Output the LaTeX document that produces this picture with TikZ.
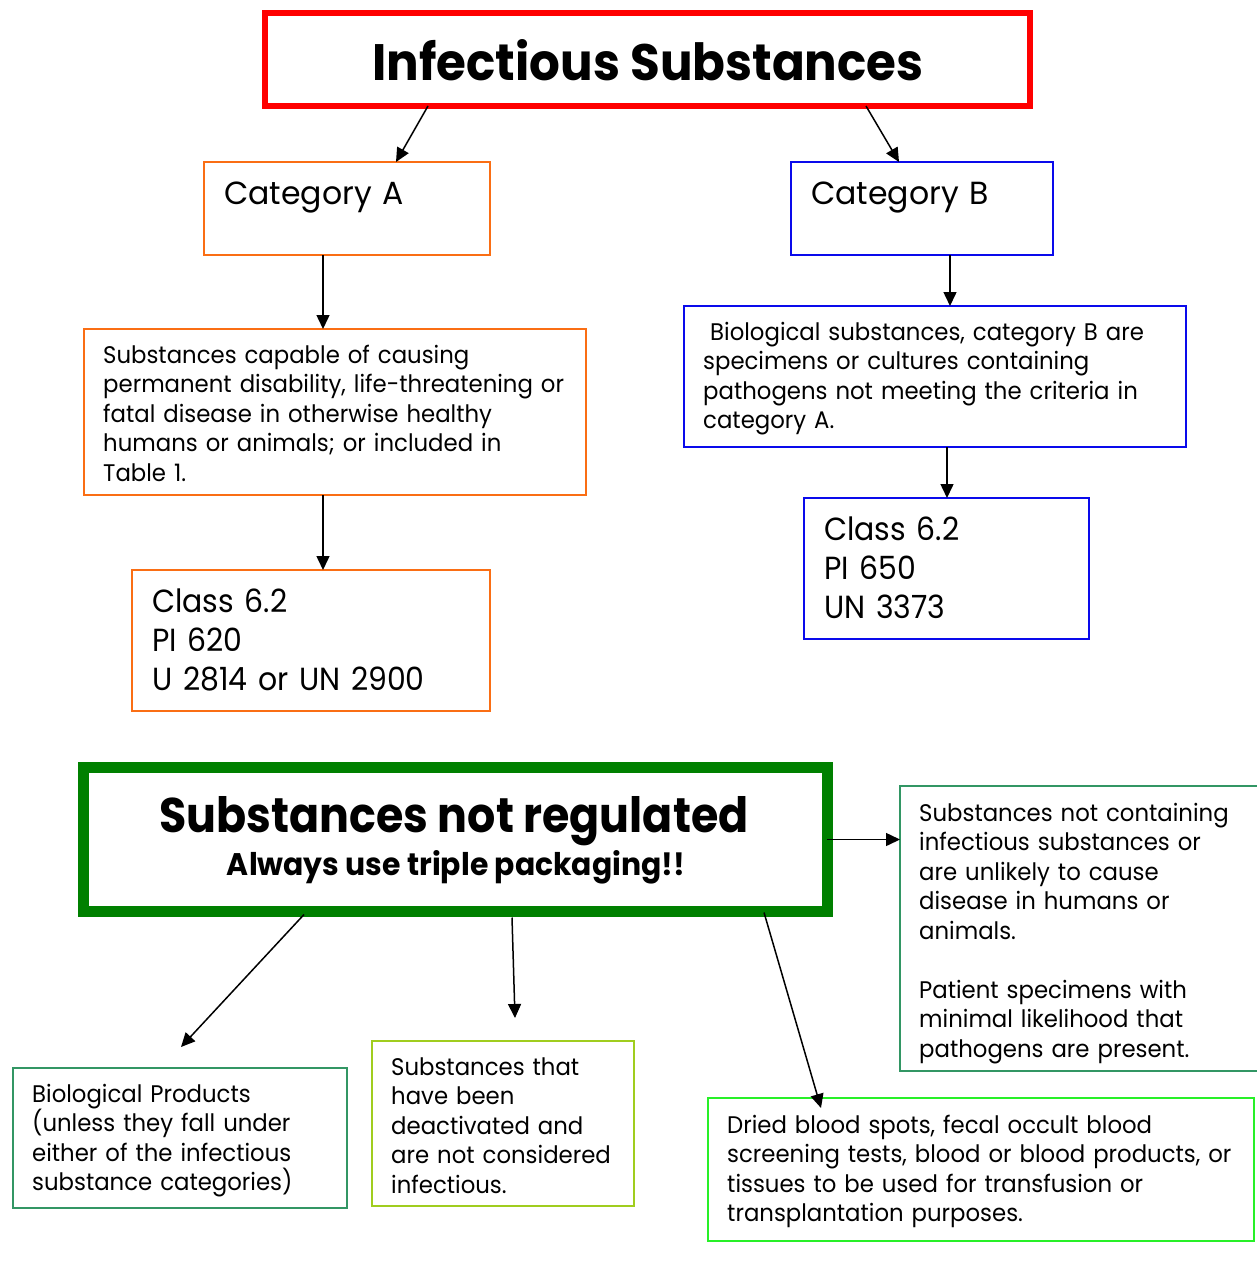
\documentclass[tikz,border=0pt]{standalone}
\usepackage{graphicx}
\usepackage{fontspec}
\setmainfont{Poppins}
\newfontfamily\smallfont{Poppins}[FakeStretch=0.95]
\newfontfamily\catfont{Poppins}[FakeStretch=0.985]
\newfontfamily\classfont{Poppins}[FakeStretch=0.935]
\usetikzlibrary{arrows.meta}
\definecolor{cRed}{RGB}{255,0,0}
\definecolor{cOrange}{RGB}{250,110,20}
\definecolor{cBlue}{RGB}{10,10,235}
\definecolor{cDkGreen}{RGB}{0,128,0}
\definecolor{cTeal}{RGB}{50,150,100}
\definecolor{cLime}{RGB}{160,205,30}
\definecolor{cBright}{RGB}{40,240,40}
\newcommand\firstl{\rule{0pt}{1em}}
\tikzset{
  box/.style={draw, line width=2pt, inner sep=0pt, outer sep=0pt, fill=white},
  cat/.style={anchor=north west, inner sep=0pt, align=left, text width=420pt,
    font=\catfont\fontsize{32}{39}\selectfont},
  big/.style={anchor=north west, inner sep=0pt, align=left, text width=420pt,
    font=\classfont\fontsize{32}{39}\selectfont},
  small/.style={anchor=north west, inner sep=0pt, align=left, text width=540pt,
    font=\smallfont\fontsize{24}{29.5}\selectfont},
  arr/.style={draw=black, line width=1.5pt, -{Triangle[length=14pt,width=13pt]}},
}
\begin{document}
\begin{tikzpicture}[x=1pt,y=-1pt]
\useasboundingbox (0,0) rectangle (1257,1266);
% boxes
\node[box, draw=cRed, line width=6pt, minimum width=765pt, minimum height=93pt] (title) at (647.5,59.5) {};
\node[box, draw=cOrange, minimum width=286pt, minimum height=93pt] (catA) at (347,208.5) {};
\node[box, draw=cBlue, minimum width=262pt, minimum height=93pt] (catB) at (922,208.5) {};
\node[box, draw=cOrange, minimum width=502pt, minimum height=166pt] (a2) at (335,412) {};
\node[box, draw=cOrange, minimum width=358pt, minimum height=141pt] (a3) at (311,640.5) {};
\node[box, draw=cBlue, minimum width=502pt, minimum height=141pt] (b2) at (935,376.5) {};
\node[box, draw=cBlue, minimum width=285pt, minimum height=141pt] (b3) at (946.5,568.5) {};
\node[box, draw=cDkGreen, line width=11pt, minimum width=744pt, minimum height=144pt] (nr) at (455,839.5) {};
\node[box, draw=cTeal, minimum width=360pt, minimum height=285pt] (right) at (1080,928.5) {};
\node[box, draw=cTeal, minimum width=334pt, minimum height=140pt] (bio) at (180,1138) {};
\node[box, draw=cLime, minimum width=262pt, minimum height=165pt] (deact) at (503,1123.5) {};
\node[box, draw=cBright, minimum width=546pt, minimum height=143pt] (dried) at (981,1169.5) {};
% texts
\node[anchor=base, inner sep=0pt] (titletext) at (648,80)
  {\resizebox{551pt}{41pt}{\bfseries Infectious Substances}};
\node[cat] (catAtext) at (224,172) {\firstl Category A};
\node[cat] (catBtext) at (811,172) {\firstl Category B};
\node[small] (a2text) at (103,339) {\firstl Substances capable of causing\\
  permanent disability, life-threatening or\\
  fatal disease in otherwise healthy\\
  humans or animals; or included in\\
  Table 1.};
\node[big] (a3text) at (152,580) {\firstl Class 6.2\\ PI 620\\ U 2814 or UN 2900};
\node[small] (b2text) at (703,316) {\firstl\hspace{7pt}Biological substances, category B are\\
  specimens or cultures containing\\
  pathogens not meeting the criteria in\\
  category A.};
\node[big] (b3text) at (824,508) {\firstl Class 6.2\\ PI 650\\ UN 3373};
\node[anchor=base, inner sep=0pt] (nrtext) at (454,832)
  {\resizebox{589pt}{36pt}{\bfseries Substances not regulated}};
\node[anchor=base, inner sep=0pt] (nrsub) at (456,875)
  {\resizebox{458pt}{25pt}{\bfseries Always use triple packaging!!}};
\node[small] (righttext) at (919,797) {\firstl Substances not containing\\
  infectious substances or\\
  are unlikely to cause\\
  disease in humans or\\
  animals.\\[29.5pt]
  Patient specimens with\\
  minimal likelihood that\\
  pathogens are present.};
\node[small] (biotext) at (32,1078) {\firstl Biological Products\\
  (unless they fall under\\
  either of the infectious\\
  substance categories)};
\node[small] (deacttext) at (391,1051) {\firstl Substances that\\
  have been\\
  deactivated and\\
  are not considered\\
  infectious.};
\node[small] (driedtext) at (727,1109) {\firstl Dried blood spots, fecal occult blood\\
  screening tests, blood or blood products, or\\
  tissues to be used for transfusion or\\
  transplantation purposes.};
% arrow free ends
\coordinate (bioend) at (181,1047);
\coordinate (deactend) at (515,1018);
\coordinate (driedend) at (821,1108);
% connectors
\draw[arr] ([xshift=-219.5pt]title.south) -- ([xshift=49pt]catA.north);
\draw[arr] ([xshift=218.5pt]title.south) -- ([xshift=-23pt]catB.north);
\draw[arr] ([xshift=-24pt]catA.south) -- ([xshift=-12pt]a2.north);
\draw[arr] ([xshift=-12pt]a2.south) -- ([xshift=12pt]a3.north);
\draw[arr] ([xshift=28pt]catB.south) -- ([xshift=15pt]b2.north);
\draw[arr] ([xshift=12pt]b2.south) -- ([xshift=0.5pt]b3.north);
\draw[arr] (nr.east) -- (nr.east -| right.west);
\draw[arr] ([xshift=-151pt,yshift=-3pt]nr.south) -- (bioend);
\draw[arr] ([xshift=57pt,yshift=-6pt]nr.south) -- (deactend);
\draw[arr] ([xshift=309pt,yshift=-1pt]nr.south) -- (driedend);
\end{tikzpicture}
\end{document}
